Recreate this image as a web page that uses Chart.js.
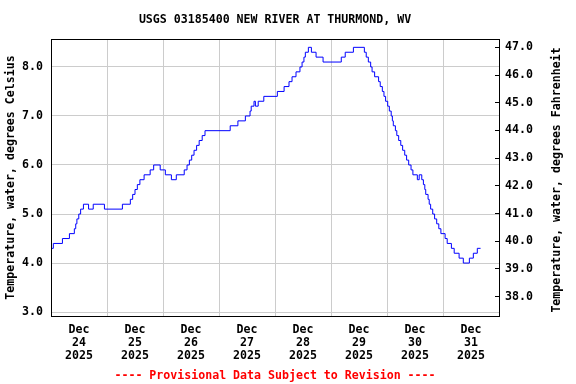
<!DOCTYPE html>
<html><head><meta charset="utf-8">
<script src="https://cdn.jsdelivr.net/npm/chart.js@4"></script>
<style>html,body{margin:0;padding:0;background:#fff}#wrap{width:576px;height:384px}</style>
</head><body><div id="wrap"><canvas id="c" width="576" height="384"></canvas></div>
<script>
// hours since Dec 24 2025 00:00 at which the reading changes
const hours = [0, 1.0, 4.9, 7.9, 10.0, 10.6, 11.1, 11.9, 12.7, 13.9,
  16.1, 18.1, 22.9, 30.6, 34.0, 35.0, 36.0, 37.0, 38.1, 39.9,
  42.5, 44.0, 46.8, 49.0, 51.6, 53.7, 57.1, 58.3, 59.3, 60.3,
  61.3, 62.4, 63.5, 64.8, 66.0, 76.8, 80.1, 83.3, 85.3, 85.8,
  87.0, 87.6, 88.8, 91.2, 97.0, 99.9, 102.0, 103.3, 105.0, 106.7,
  107.6, 108.4, 109.0, 110.3, 111.6, 113.6, 116.6, 124.4, 126.1, 129.6,
  134.3, 135.1, 136.0, 137.0, 137.6, 138.7, 140.4, 141.1, 142.0, 142.7,
  143.4, 144.3, 145.0, 145.8, 146.3, 146.7, 147.6, 148.2, 149.0, 149.9,
  150.7, 151.6, 152.4, 153.3, 154.3, 155.1, 157.0, 157.8, 158.9, 159.6,
  160.2, 160.6, 161.6, 162.1, 162.7, 163.6, 164.4, 165.3, 166.2, 167.1,
  168.9, 169.8, 171.6, 172.8, 174.9, 176.7, 179.3, 181.0, 182.7, 184.1];
const tempsC = [4.3, 4.4, 4.5, 4.6, 4.7, 4.8, 4.9, 5.0, 5.1, 5.2,
  5.1, 5.2, 5.1, 5.2, 5.3, 5.4, 5.5, 5.6, 5.7, 5.8,
  5.9, 6.0, 5.9, 5.8, 5.7, 5.8, 5.9, 6.0, 6.1, 6.2,
  6.3, 6.4, 6.5, 6.6, 6.7, 6.8, 6.9, 7.0, 7.1, 7.2,
  7.3, 7.2, 7.3, 7.4, 7.5, 7.6, 7.7, 7.8, 7.9, 8.0,
  8.1, 8.2, 8.3, 8.4, 8.3, 8.2, 8.1, 8.2, 8.3, 8.4,
  8.3, 8.2, 8.1, 8.0, 7.9, 7.8, 7.7, 7.6, 7.5, 7.4,
  7.3, 7.2, 7.1, 7.0, 6.9, 6.8, 6.7, 6.6, 6.5, 6.4,
  6.3, 6.2, 6.1, 6.0, 5.9, 5.8, 5.7, 5.8, 5.7, 5.6,
  5.5, 5.4, 5.3, 5.2, 5.1, 5.0, 4.9, 4.8, 4.7, 4.6,
  4.5, 4.4, 4.3, 4.2, 4.1, 4.0, 4.1, 4.2, 4.3, 4.3];
const dayLabels = [['Dec','24','2025'],['Dec','25','2025'],['Dec','26','2025'],['Dec','27','2025'],
  ['Dec','28','2025'],['Dec','29','2025'],['Dec','30','2025'],['Dec','31','2025']];
const leftTicks = [3, 4, 5, 6, 7, 8];
const rightTicks = [38, 39, 40, 41, 42, 43, 44, 45, 46, 47];
const titleText = 'USGS 03185400 NEW RIVER AT THURMOND, WV';
const footerText = '---- Provisional Data Subject to Revision ----';
const leftTitle = 'Temperature, water, degrees Celsius';
const rightTitle = 'Temperature, water, degrees Fahrenheit';

const FAM = "'DejaVu Sans Mono', 'Liberation Mono', monospace";
const FONT = {family: FAM, weight: 'bold', size: 11.6};

const frame = {
  id: 'frame',
  afterDraw(chart) {
    const {ctx, chartArea: a} = chart;
    ctx.save();
    ctx.strokeStyle = '#000'; ctx.lineWidth = 1;
    ctx.strokeRect(51.5, 39.5, a.right - a.left, a.bottom - a.top);
    ctx.translate(557, 180);
    ctx.rotate(-Math.PI / 2);
    ctx.font = 'bold 11.6px ' + FAM;
    ctx.fillStyle = '#000';
    ctx.textAlign = 'center'; ctx.textBaseline = 'middle';
    ctx.fillText(rightTitle, 0, 0);
    ctx.restore();
  }
};

new Chart(document.getElementById('c'), {
  type: 'line',
  data: {datasets: [{
    data: hours.map((h, i) => ({x: h, y: tempsC[i]})),
    borderColor: '#0000ff', borderWidth: 1, pointRadius: 0, stepped: true, fill: false, yAxisID: 'y'
  }]},
  options: {
    responsive: false, animation: false, devicePixelRatio: 1,
    layout: {padding: 0},
    plugins: {
      legend: {display: false}, tooltip: {enabled: false},
      title: {display: true, text: titleText, color: '#000', fullSize: false,
        font: Object.assign({}, FONT, {lineHeight: '14px'}), padding: {top: 13, bottom: 12}},
      subtitle: {display: true, position: 'bottom', text: footerText, color: '#ff0000', fullSize: false,
        font: Object.assign({}, FONT, {lineHeight: '14px'}), padding: {top: 7, bottom: 1}}
    },
    scales: {
      x: {
        type: 'linear', min: 0, max: 192, position: 'bottom',
        ticks: {stepSize: 12, autoSkip: false, maxRotation: 0, padding: 7, color: '#000',
          font: Object.assign({}, FONT, {lineHeight: '13px'}),
          callback: v => (v % 24 === 12 ? dayLabels[(v - 12) / 24] : '')},
        grid: {drawTicks: false, lineWidth: 1,
          color: c => (c.tick && c.tick.value % 24 === 0) ? '#cccccc' : 'rgba(0,0,0,0)'},
        border: {display: true, color: '#000', width: 1},
        afterFit: s => { s.height = 46; }
      },
      y: {
        position: 'left', min: 2.92, max: 8.57,
        afterBuildTicks: s => { s.ticks = leftTicks.map(v => ({value: v})); },
        ticks: {padding: 8, color: '#000', font: FONT, callback: v => Number(v).toFixed(1)},
        grid: {drawTicks: false, color: '#cccccc', lineWidth: 1},
        border: {display: true, color: '#000', width: 1},
        title: {display: true, text: leftTitle, color: '#000', font: FONT, padding: {top: 4, bottom: 0}},
        afterFit: s => { s.width = 51; }
      },
      y2: {
        position: 'right', min: 37.3, max: 47.3,
        afterBuildTicks: s => { s.ticks = rightTicks.map(v => ({value: v})); },
        ticks: {padding: 10, color: '#000', font: FONT, callback: v => Number(v).toFixed(1)},
        grid: {drawOnChartArea: false, drawTicks: true, tickLength: -4, color: '#000', lineWidth: 1},
        border: {display: true, color: '#000', width: 1},
        afterFit: s => { s.width = 77; }
      }
    }
  },
  plugins: [frame]
});
</script>
</body></html>
